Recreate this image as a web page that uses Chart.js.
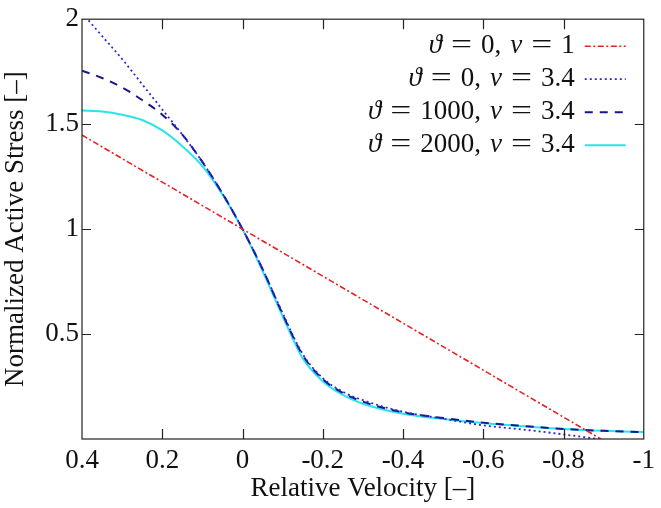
<!DOCTYPE html>
<html>
<head>
<meta charset="utf-8">
<script src="https://cdn.jsdelivr.net/npm/chart.js@4/dist/chart.umd.min.js"></script>
<style>
  html, body { margin: 0; padding: 0; background: #fff; }
</style>
</head>
<body>
<canvas id="chart" width="661" height="508"></canvas>
<script>
// values
const velocity = [0.4, 0.35, 0.3, 0.25, 0.2, 0.15, 0.1, 0.05, 0, -0.05, -0.1, -0.15, -0.2, -0.25, -0.3, -0.4, -0.5, -0.6, -0.7, -0.8, -0.9, -1];
const linearVelocity = [0.4, 0, -0.893];
const stressLinear = [1.448, 1.0, 0];
const stressNu34 = [2.03, 1.92, 1.81, 1.69, 1.57, 1.45, 1.32, 1.17, 1.0, 0.81, 0.6, 0.405, 0.29, 0.225, 0.185, 0.13, 0.097, 0.065, 0.045, 0.022, -0.004, null];
const stressTheta1000 = [1.755, 1.72, 1.675, 1.615, 1.545, 1.45, 1.32, 1.17, 1.0, 0.81, 0.595, 0.4, 0.285, 0.22, 0.178, 0.127, 0.1, 0.078, 0.062, 0.048, 0.039, 0.032];
const stressTheta2000 = [1.565, 1.56, 1.545, 1.52, 1.47, 1.395, 1.3, 1.165, 1.0, 0.8, 0.585, 0.385, 0.275, 0.21, 0.168, 0.12, 0.095, 0.076, 0.061, 0.048, 0.039, 0.033];
const seriesLabels = ['ϑ = 0, ν = 1', 'ϑ = 0, ν = 3.4', 'ϑ = 1000, ν = 3.4', 'ϑ = 2000, ν = 3.4'];
const xTicks = [0.4, 0.2, 0, -0.2, -0.4, -0.6, -0.8, -1];
const yTicks = [0.5, 1, 1.5, 2];

const serif = "Liberation Serif, serif";

function toPoints(xs, ys) {
    return xs.map((x, i) => ({ x: x, y: ys[i] }));
}

// box round the plot with small inward tick marks on all four sides
const framePlugin = {
    id: 'frame',
    afterDatasetsDraw(chart) {
        const { ctx, chartArea: a, scales } = chart;
        ctx.save();
        ctx.strokeStyle = '#222';
        ctx.lineWidth = 1.2;
        ctx.strokeRect(a.left, a.top, a.right - a.left, a.bottom - a.top);
        ctx.beginPath();
        xTicks.forEach(v => {
            const px = Math.round(scales.x.getPixelForValue(v)) + 0.5;
            if (px <= a.left + 2 || px >= a.right - 2) return;
            ctx.moveTo(px, a.bottom); ctx.lineTo(px, a.bottom - 10);
            ctx.moveTo(px, a.top); ctx.lineTo(px, a.top + 10);
        });
        yTicks.forEach(v => {
            const py = Math.round(scales.y.getPixelForValue(v)) + 0.5;
            if (py <= a.top + 2 || py >= a.bottom - 2) return;
            ctx.moveTo(a.left, py); ctx.lineTo(a.left + 9, py);
            ctx.moveTo(a.right, py); ctx.lineTo(a.right - 9, py);
        });
        ctx.stroke();
        ctx.restore();
    }
};

// legend in the top right corner, greek letters in italic, math-like spacing
const legendPlugin = {
    id: 'texLegend',
    afterDraw(chart) {
        const { ctx, chartArea: a } = chart;
        const size = 27;
        const gap = 9;
        const eqStretch = 1.38;
        const textRight = a.right - 69;
        ctx.save();
        ctx.textBaseline = 'middle';
        chart.data.datasets.forEach((ds, i) => {
            const y = a.top + 27 + i * 33;
            const parts = Array.from(ds.label).map(ch => {
                ctx.font = ('ϑν'.includes(ch) ? 'italic ' : '') + size + 'px ' + serif;
                let w = ctx.measureText(ch).width;
                if (ch === ' ') w = gap;
                if (ch === '=') w *= eqStretch;
                return { ch: ch, font: ctx.font, w: w };
            });
            let x = textRight - parts.reduce((s, p) => s + p.w, 0);
            ctx.fillStyle = '#111';
            parts.forEach(p => {
                ctx.font = p.font;
                if (p.ch === '=') {
                    ctx.save();
                    ctx.translate(x, y);
                    ctx.scale(eqStretch, 1);
                    ctx.fillText('=', 0, 0);
                    ctx.restore();
                } else if (p.ch !== ' ') {
                    ctx.fillText(p.ch, x, y);
                }
                x += p.w;
            });
            ctx.strokeStyle = ds.borderColor;
            ctx.lineWidth = ds.borderWidth;
            ctx.setLineDash(ds.borderDash || []);
            ctx.beginPath();
            ctx.moveTo(a.right - 59, y);
            ctx.lineTo(a.right - 18, y);
            ctx.stroke();
        });
        ctx.restore();
    }
};

const common = { pointRadius: 0, fill: false, clip: 0, cubicInterpolationMode: 'monotone', spanGaps: false };

new Chart(document.getElementById('chart').getContext('2d'), {
    type: 'line',
    data: {
        datasets: [
            Object.assign({ label: seriesLabels[0], data: toPoints(linearVelocity, stressLinear), borderColor: '#e52222', borderWidth: 1.6, borderDash: [6, 2.5, 2, 2.5] }, common),
            Object.assign({ label: seriesLabels[1], data: toPoints(velocity, stressNu34), borderColor: '#2a2ad8', borderWidth: 1.8, borderDash: [2, 3] }, common),
            Object.assign({ label: seriesLabels[2], data: toPoints(velocity, stressTheta1000), borderColor: '#16168e', borderWidth: 2, borderDash: [8, 7] }, common),
            Object.assign({ label: seriesLabels[3], data: toPoints(velocity, stressTheta2000), borderColor: '#28e4ec', borderWidth: 2 }, common)
        ]
    },
    options: {
        responsive: false,
        animation: false,
        layout: { padding: { top: 8, right: 10, left: 0, bottom: 0 } },
        plugins: { legend: { display: false }, tooltip: { enabled: false } },
        scales: {
            x: {
                type: 'linear',
                reverse: true,
                min: -1,
                max: 0.4,
                afterBuildTicks: s => { s.ticks = xTicks.map(v => ({ value: v })); },
                afterFit: s => { s.height = 69; },
                grid: { display: false, drawTicks: false },
                border: { display: false },
                ticks: {
                    padding: 6,
                    color: '#111',
                    font: { family: serif, size: 27 },
                    maxRotation: 0,
                    callback: v => String(Math.round(v * 10) / 10)
                },
                title: {
                    display: true,
                    text: 'Relative Velocity [–]',
                    color: '#111',
                    font: { family: serif, size: 27 },
                    padding: { top: 0, bottom: 3 }
                }
            },
            y: {
                type: 'linear',
                min: 0,
                max: 2,
                afterBuildTicks: s => { s.ticks = yTicks.map(v => ({ value: v })); },
                afterFit: s => { s.width = 82; },
                grid: { display: false, drawTicks: false },
                border: { display: false },
                ticks: {
                    padding: 3,
                    color: '#111',
                    font: { family: serif, size: 27 },
                    callback: v => String(v)
                },
                title: {
                    display: true,
                    text: 'Normalized Active Stress [–]',
                    color: '#111',
                    font: { family: serif, size: 27 },
                    padding: { top: 0, bottom: 0 }
                }
            }
        }
    },
    plugins: [framePlugin, legendPlugin]
});
</script>
</body>
</html>
